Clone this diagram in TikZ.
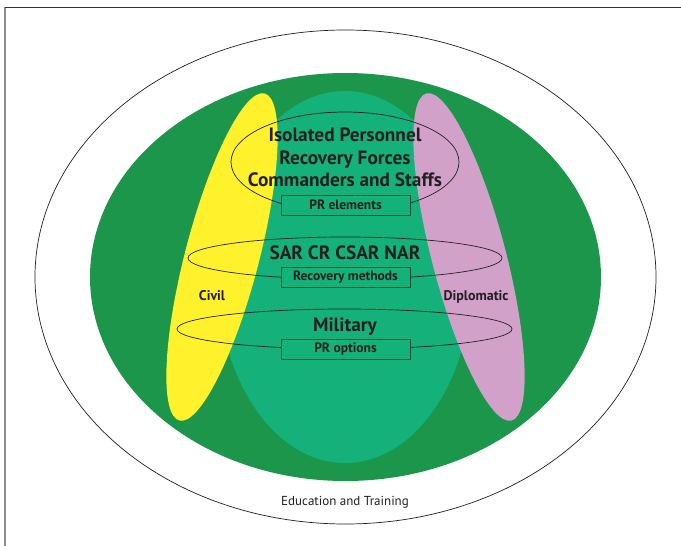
\documentclass[tikz,border=0pt]{standalone}
\usepackage{fontspec}
\setmainfont{PT Sans}
\definecolor{darkgreen}{HTML}{1B964A}
\definecolor{teal}{HTML}{14B27A}
\definecolor{yel}{HTML}{FFF22C}
\definecolor{pink}{HTML}{D1A1CA}
\definecolor{ink}{HTML}{231F20}
\definecolor{boxline}{HTML}{1F4A34}
\tikzset{
  ring/.style={draw=ink, line width=0.7pt},
  labelbox/.style={draw=boxline, line width=0.8pt, fill=teal, minimum width=129pt, minimum height=20pt, inner sep=0pt, text=ink, font=\fontsize{13.5}{15}\selectfont\bfseries},
  bigtext/.style={text=ink, font=\fontsize{19.3}{22}\selectfont\bfseries, inner sep=0pt},
  sidetext/.style={text=ink, font=\fontsize{14}{16}\selectfont\bfseries, inner sep=0pt},
}
\begin{document}
\begin{tikzpicture}[x=1pt,y=-1pt]
\useasboundingbox (0,0) rectangle (681,546);
\fill[white] (0,0) rectangle (681,546);
% frame
\draw[color=black!45, line width=1.2pt] (5,546) -- (5,7);
\draw[color=black!80, line width=1pt] (5,7) -- (681,7);
% outer ellipse
\draw[ink, line width=0.7pt, fill=white] (345.5,277) ellipse [x radius=310.5, y radius=247];
% dark green
\fill[darkgreen] (345.5,277) ellipse [x radius=255.5, y radius=204];
% teal
\fill[teal] (345,277) ellipse [x radius=127, y radius=186];
% yellow and pink
\fill[yel, rotate around={-14.6:(222,257)}] (222,257) ellipse [x radius=37, y radius=169];
\fill[pink, rotate around={14.6:(469,257)}] (469,257) ellipse [x radius=37, y radius=169];
% outline ellipses
\draw[ring] (345,162) ellipse [x radius=114, y radius=50];
\draw[ring] (345,258) ellipse [x radius=157, y radius=21];
\draw[ring] (344.5,329) ellipse [x radius=167.5, y radius=20];
% boxes
\node[labelbox] (prelem) at (345.5,205) {PR elements};
\node[labelbox] (recmeth) at (345.5,277) {Recovery methods};
\node[labelbox] (propt) at (345.5,349) {PR options};
% headings
\node[bigtext, anchor=base] (iso) at (345,141.7) {Isolated Personnel};
\node[bigtext, anchor=base] (recf) at (345,164) {Recovery Forces};
\node[bigtext, anchor=base] (comm) at (345,186) {Commanders and Staffs};
\node[bigtext, anchor=base] (sar) at (345,259.3) {SAR CR CSAR NAR};
\node[bigtext, anchor=base] (mil) at (345,331) {Military};
% side labels
\node[sidetext, anchor=base] (civil) at (212,300.7) {Civil};
\node[sidetext, anchor=base] (dipl) at (476,300.7) {Diplomatic};
% bottom
\node[text=ink, font=\fontsize{13}{15}\selectfont, inner sep=0pt, anchor=base] (edu) at (345,505) {Education and Training};
\end{tikzpicture}
\end{document}
